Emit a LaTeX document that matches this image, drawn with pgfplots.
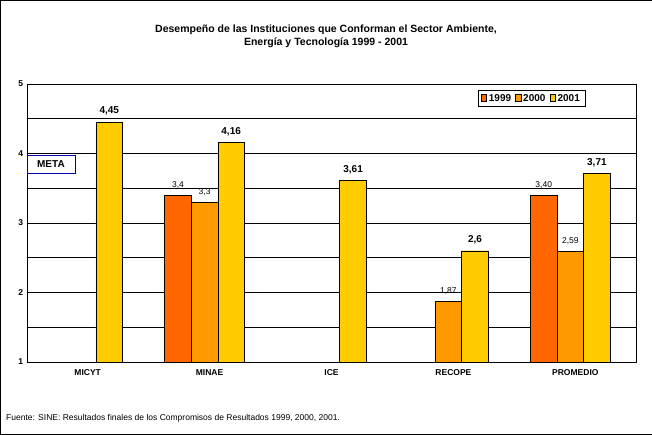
\documentclass[border=0pt]{standalone}
\usepackage{pgfplots}
\pgfplotsset{compat=1.18}
\usepackage{fontspec}
\setmainfont{Liberation Sans}
\definecolor{cA}{HTML}{FF6600}
\definecolor{cB}{HTML}{FF9900}
\definecolor{cC}{HTML}{FFCC00}
\begin{document}
\begin{tikzpicture}[x=1pt,y=1pt]
\draw[black] (0.5,0.5) rectangle (651.5,434.5);
\node[font=\bfseries\fontsize{10.5}{13}\selectfont,align=center] at (326,398) {Desempeño de las Instituciones que Conforman el Sector Ambiente,\\Energía y Tecnología 1999 - 2001};
\node[anchor=west,font=\fontsize{8.5}{10}\selectfont] at (3,17) {Fuente: SINE: Resultados finales de los Compromisos de Resultados 1999, 2000, 2001.};
\begin{axis}[at={(27pt,73pt)},anchor=south west,scale only axis,width=609pt,height=278pt,
 xmin=-0.5,xmax=4.5,ymin=1,ymax=5,
 xtick={0,1,2,3,4},xticklabels={MICYT,MINAE,ICE,RECOPE,PROMEDIO},
 ytick={1,1.5,...,5},yticklabels={1,,2,,3,,4,,5},
 ymajorgrids,major grid style={black,thin},
 tick style={draw=none},
 ticklabel style={font=\bfseries\fontsize{8.5}{10}\selectfont},
 /pgf/number format/assume math mode=true,
 ybar,bar width=0.22,bar shift=0pt,
 nodes near coords,point meta=explicit symbolic,
 every node near coord/.append style={font=\fontsize{8.5}{10}\selectfont,yshift=3pt},
 legend columns=3,
 legend style={at={(0.916,0.978)},anchor=north east,draw=black,font=\bfseries\fontsize{10}{12}\selectfont,
   /tikz/every even column/.append style={column sep=2pt}},
 legend image code/.code={\draw[#1] (0cm,-0.1cm) rectangle (0.2cm,0.15cm);},
]
\addplot[fill=cA,draw=black] coordinates {(0.741,3.4)[3,4] (3.741,3.40)[3,40]};
\addplot[fill=cB,draw=black] coordinates {(0.959,3.3)[3,3] (2.959,1.87)[1,87] (3.959,2.59)[2,59]};
\addplot[fill=cC,draw=black,every node near coord/.append style={font=\bfseries\fontsize{10}{12}\selectfont}] coordinates {(0.177,4.45)[4,45] (1.177,4.16)[4,16] (2.177,3.61)[3,61] (3.177,2.6)[2,6] (4.177,3.71)[3,71]};
\legend{1999,2000,2001}
\node[draw=blue!70!black,fill=white,anchor=west,font=\bfseries\fontsize{10}{12}\selectfont,minimum width=48pt,minimum height=18pt] at (axis cs:-0.5,3.85) {META};
\end{axis}
\end{tikzpicture}
\end{document}
